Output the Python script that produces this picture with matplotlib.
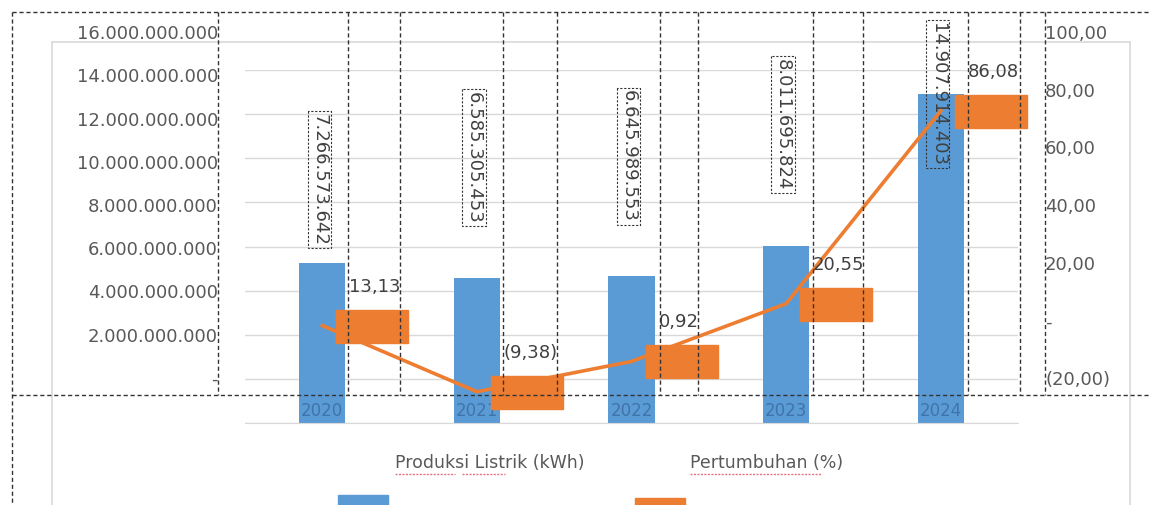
import matplotlib
matplotlib.use("Agg")
import matplotlib.pyplot as plt
import matplotlib.transforms as mtransforms
from matplotlib.lines import Line2D
from matplotlib.patches import Rectangle

# data
years = ['2020', '2021', '2022', '2023', '2024']
produksi = [7266573642, 6585305453, 6645989553, 8011695824, 14907914403]
produksi_labels = ['7.266.573.642', '6.585.305.453', '6.645.989.553',
                   '8.011.695.824', '14.907.914.403']
pertumbuhan = [13.13, -9.38, 0.92, 20.55, 86.08]
pertumbuhan_labels = ['13,13', '(9,38)', '0,92', '20,55', '86,08']

left_ticks = [0, 2e9, 4e9, 6e9, 8e9, 10e9, 12e9, 14e9, 16e9]
left_tick_labels = ['-', '2.000.000.000', '4.000.000.000', '6.000.000.000',
                    '8.000.000.000', '10.000.000.000', '12.000.000.000',
                    '14.000.000.000', '16.000.000.000']
right_ticks = [-20, 0, 20, 40, 60, 80, 100]
right_tick_labels = ['(20,00)', '-', '20,00', '40,00', '60,00', '80,00', '100,00']

legend_names = ['Produksi Listrik (kWh)', 'Pertumbuhan (%)']

# label placement tweaks (pixels above bar top)
bar_label_dy = [83, 120, 120, 122, 0]

W, H = 1151, 505
BLUE = '#5B9BD5'
ORANGE = '#ED7D31'
TXT = '#595959'
GRID = '#D9D9D9'


def fx(x):
    return x / W


def fy(y):
    return 1 - y / H


fig = plt.figure(figsize=(W / 100, H / 100), dpi=100)

# chart area border
for xs, ys in [([52, 52], [42, 505]), ([1130, 1130], [42, 505]), ([52, 1130], [42, 42])]:
    fig.add_artist(Line2D([fx(v) for v in xs], [fy(v) for v in ys],
                          transform=fig.transFigure, color=GRID, lw=1.2, zorder=0))

ax = fig.add_axes([fx(245), fy(423), 773 / W, 353 / H])
x = list(range(len(years)))
ax.bar(x, produksi, width=0.30, color=BLUE, zorder=2)
ax.set_xlim(-0.5, 4.5)
ax.set_ylim(0, 16e9)
ax.set_yticks(left_ticks)
ax.set_yticklabels([])
ax.set_xticks([])
ax.tick_params(length=0)
ax.grid(axis='y', color=GRID, lw=1, zorder=0)
ax.set_axisbelow(True)
for s in ['left', 'right', 'top']:
    ax.spines[s].set_visible(False)
ax.spines['bottom'].set_color(GRID)

for i, yr in enumerate(years):
    ax.text(i, 0.035, yr, transform=ax.get_xaxis_transform(), ha='center',
            va='center', color='#3f74aa', fontsize=12, zorder=3)

ax2 = ax.twinx()
ax2.set_ylim(-20, 100)
ax2.set_yticks([])
for s in ax2.spines.values():
    s.set_visible(False)
ax2.plot(x, pertumbuhan, color=ORANGE, lw=2.6, zorder=2)

for i, v in enumerate(pertumbuhan):
    tr = mtransforms.ScaledTranslation(i, v, ax2.transData)
    fig.add_artist(Rectangle((14, -17), 72, 33, transform=tr,
                             color=ORANGE, zorder=3))
    ax2.annotate(pertumbuhan_labels[i], (i, v), xytext=(27, 39),
                 textcoords='offset pixels', ha='left', va='center',
                 color='#404040', fontsize=13, zorder=5)

for i, v in enumerate(produksi):
    ax.annotate(produksi_labels[i], (i, v), xytext=(-3, bar_label_dy[i]),
                textcoords='offset pixels', rotation=-90, ha='center',
                va='center', color='#404040', fontsize=13, zorder=5,
                bbox=dict(boxstyle='square,pad=0.15', fc='none', ec='#333333',
                          ls=(0, (2, 1.5)), lw=0.8))

# tick labels sit a bit higher than the gridlines in the reference
axl = fig.add_axes([fx(245), fy(378), 773 / W, (378 - 32) / H])
axl.patch.set_visible(False)
for s in axl.spines.values():
    s.set_visible(False)
axl.set_ylim(0, 16e9)
axl.set_yticks(left_ticks)
axl.set_yticklabels(left_tick_labels)
axl.set_xticks([])
axl.tick_params(axis='y', length=0, pad=19.5, labelsize=13, labelcolor=TXT)
axr = axl.twinx()
for s in axr.spines.values():
    s.set_visible(False)
axr.set_ylim(-20, 100)
axr.set_yticks(right_ticks)
axr.set_yticklabels(right_tick_labels)
axr.tick_params(axis='y', length=0, pad=19.5, labelsize=13, labelcolor=TXT)

# legend
fig.text(fx(395), fy(463), legend_names[0], ha='left', va='center',
         fontsize=12.5, color=TXT)
fig.text(fx(690), fy(463), legend_names[1], ha='left', va='center',
         fontsize=12.5, color=TXT)
fig.add_artist(Rectangle((fx(338), 0), 50 / W, 10 / H, transform=fig.transFigure,
                         color=BLUE, zorder=3))
fig.add_artist(Rectangle((fx(635), 0), 50 / W, 7 / H, transform=fig.transFigure,
                         color=ORANGE, zorder=3))
for x0, x1 in [(395, 455), (462, 505), (690, 822)]:
    fig.add_artist(Line2D([fx(x0), fx(x1)], [fy(474), fy(474)],
                          transform=fig.transFigure, color='#E57383', lw=1,
                          ls=(0, (1.5, 1)), zorder=4))

# dashed selection outlines
dash = dict(transform=fig.transFigure, color='#333333', lw=1,
            ls=(0, (3, 2)), zorder=10)
for xv in [218, 348, 400, 503, 557, 660, 698, 813, 863, 968, 1020, 1045]:
    fig.add_artist(Line2D([fx(xv), fx(xv)], [fy(12), fy(395)], **dash))
fig.add_artist(Line2D([fx(12), fx(12)], [fy(12), fy(505)], **dash))
fig.add_artist(Line2D([fx(12), fx(1151)], [fy(12), fy(12)], **dash))
fig.add_artist(Line2D([fx(12), fx(1151)], [fy(395), fy(395)], **dash))

fig.savefig('out.png', dpi=100)
